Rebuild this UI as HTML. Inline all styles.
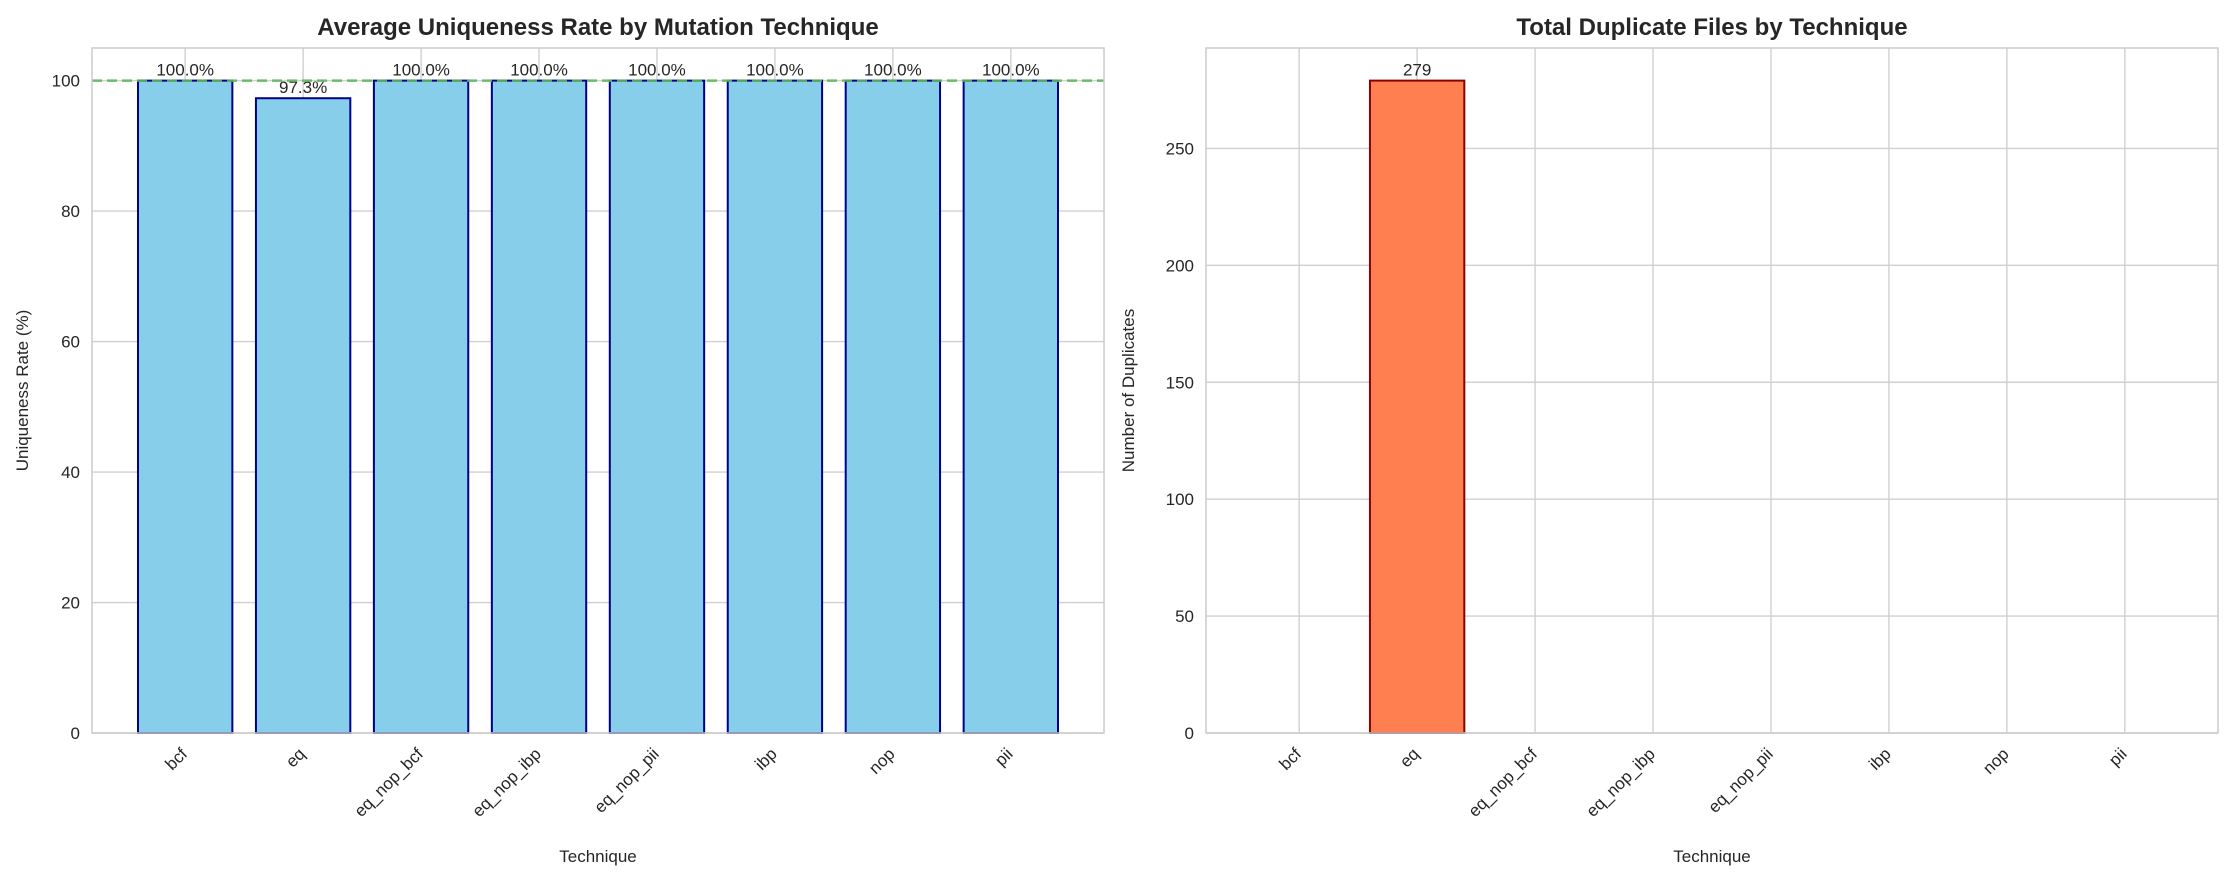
<!DOCTYPE html>
<html><head><meta charset="utf-8"><style>
html,body{margin:0;padding:0;background:#fff;}
svg{display:block;font-family:"Liberation Sans",Arial,sans-serif;}
</style></head><body>
<svg id="fig" width="2233" height="882" viewBox="0 0 2233 882" xmlns="http://www.w3.org/2000/svg"></svg>
<script>
const categories = ["bcf","eq","eq_nop_bcf","eq_nop_ibp","eq_nop_pii","ibp","nop","pii"];
const uniqueness = [100.0, 97.3, 100.0, 100.0, 100.0, 100.0, 100.0, 100.0];
const duplicates = [0, 279, 0, 0, 0, 0, 0, 0];
const leftTicks = [0,20,40,60,80,100];
const rightTicks = [0,50,100,150,200,250];

const NS="http://www.w3.org/2000/svg";
const svg=document.getElementById('fig');
function el(tag,attrs,parent){const e=document.createElementNS(NS,tag);for(const k in attrs)e.setAttribute(k,attrs[k]);(parent||svg).appendChild(e);return e;}

function panel(opt){
  const g=el('g',{});
  
  
  const L=opt.x0,R=opt.x1,T=48,B=733;
  const n=categories.length;
  const xmin=-0.79,xmax=n-1+0.79;
  const xs=v=>L+(v-xmin)/(xmax-xmin)*(R-L);
  const ys=v=>B-(v-0)/(opt.ymax)*(B-T);
  opt.ticks.forEach(t=>{
    const l=el('line',{x1:L,x2:R,y1:ys(t),y2:ys(t),stroke:'#d0d0d0','stroke-width':1.4},g);
    
    
    const tx=el('text',{x:L-12,y:ys(t)+6,'text-anchor':'end','font-size':17,fill:'#262626'},g);
    tx.textContent=t;
    
    
  });
  categories.forEach((c,i)=>{
    const l=el('line',{x1:xs(i),x2:xs(i),y1:T,y2:B,stroke:'#d0d0d0','stroke-width':1.4},g);
    
    
    const tx=el('text',{x:0,y:0,'text-anchor':'end','font-size':17,fill:'#262626',transform:`translate(${xs(i)+3},${B+22}) rotate(-45)`},g);
    tx.textContent=c;
    
    
  });
  const bw=(xs(0.8)-xs(0));
  opt.values.forEach((v,i)=>{
    const y=ys(v);
    const r=el('rect',{x:xs(i)-bw/2,y:y,width:bw,height:Math.max(B-y,0),fill:opt.fill,stroke:v>0?opt.stroke:'#e8c8c0','stroke-width':v>0?2:1.5},g);
    
    
    if(opt.label(v)!==null){
      const tx=el('text',{x:xs(i),y:y-5,'text-anchor':'middle','font-size':17,fill:'#262626'},g);
      tx.textContent=opt.label(v);
      
      
    }
  });
  if(opt.refLine!==undefined){
    const l=el('line',{x1:L,x2:R,y1:ys(opt.refLine),y2:ys(opt.refLine),stroke:'#5cb85c','stroke-width':2.5,'stroke-dasharray':'10,5',opacity:0.9},g);
    
    
  }
  const fr=el('rect',{x:L,y:T,width:R-L,height:B-T,fill:'none',stroke:'#cccccc','stroke-width':1.5},g);
  
  
  const ti=el('text',{x:(L+R)/2,y:35,'text-anchor':'middle','font-size':24,'font-weight':'bold',fill:'#262626'},g);
  ti.textContent=opt.title;
  
  
  const xl=el('text',{x:(L+R)/2,y:862,'text-anchor':'middle','font-size':17,fill:'#262626'},g);
  xl.textContent='Technique';
  
  
  const yl=el('text',{x:0,y:0,'text-anchor':'middle','font-size':17,fill:'#262626',transform:`translate(${opt.ylx},${(T+B)/2}) rotate(-90)`},g);
  yl.textContent=opt.ylabel;
  
  
}

panel({name:'uniqueness-chart',x0:92,x1:1104,ymax:105,ticks:leftTicks,values:uniqueness,fill:'#87ceeb',stroke:'#00008b',
  label:v=>v.toFixed(1)+'%',refLine:100,title:'Average Uniqueness Rate by Mutation Technique',ylabel:'Uniqueness Rate (%)',ylx:28});
panel({name:'duplicates-chart',x0:1206,x1:2218,ymax:279*1.05,ticks:rightTicks,values:duplicates,fill:'#ff7f50',stroke:'#8b0000',
  label:v=>v>0?String(v):null,title:'Total Duplicate Files by Technique',ylabel:'Number of Duplicates',ylx:1134});
</script>
</body></html>
